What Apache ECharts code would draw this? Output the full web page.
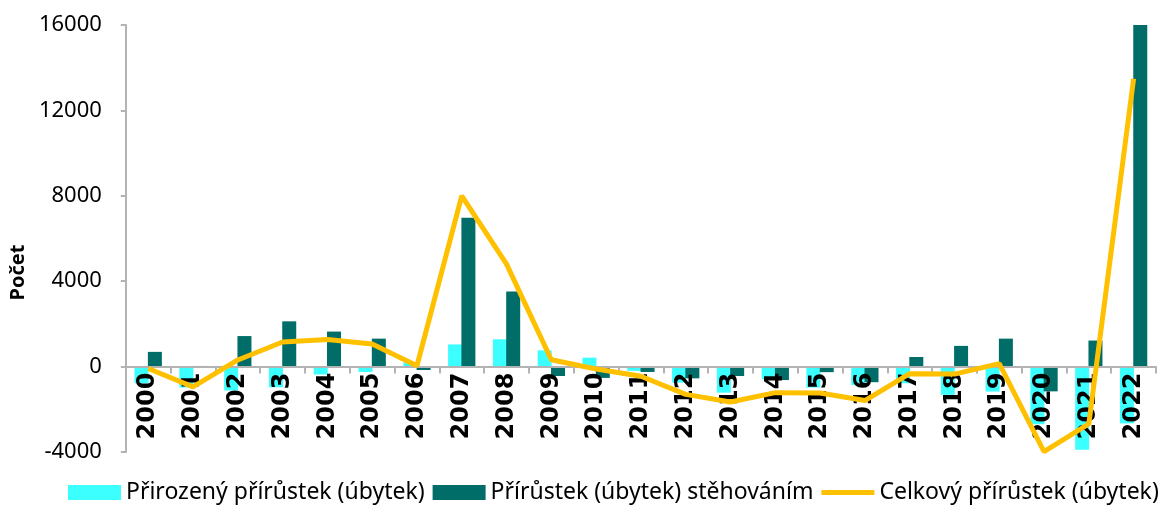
<!DOCTYPE html>
<html>
<head>
<meta charset="utf-8">
<script src="https://cdn.jsdelivr.net/npm/echarts@6/dist/echarts.min.js"></script>
<style>
  html, body { margin: 0; padding: 0; background: #fff; }
  #chart { width: 1168px; height: 512px; }
</style>
</head>
<body>
<div id="chart"></div>
<script>
// roky
var years = ['2000', '2001', '2002', '2003', '2004', '2005', '2006', '2007', '2008', '2009', '2010', '2011',
  '2012', '2013', '2014', '2015', '2016', '2017', '2018', '2019', '2020', '2021', '2022'];
// přirozený přírůstek (úbytek)
var prirozeny = [-780, -980, -1120, -970, -370, -250, 200, 1040, 1280, 760, 420, -200,
  -750, -1220, -590, -980, -860, -780, -1320, -1170, -2700, -3900, -2660];
// přírůstek (úbytek) stěhováním
var stehovanim = [690, 30, 1430, 2120, 1640, 1310, -160, 6970, 3520, -440, -530, -250,
  -550, -440, -630, -260, -730, 450, 970, 1310, -1160, 1220, 16160];
// celkový přírůstek (úbytek)
var celkovy = [-90, -950, 310, 1150, 1270, 1060, 40, 8000, 4800, 320, -110, -450,
  -1300, -1660, -1220, -1240, -1590, -330, -350, 140, -3980, -2680, 13480];

var yMin = -4000, yMax = 16000, yStep = 4000;

var gridTop = 25, gridBottom = 60;
var plotH = 512 - gridTop - gridBottom;
// posun osy x na nulu (popisky mají být hned pod nulovou čarou)
var zeroShift = -plotH * (0 - yMin) / (yMax - yMin);

var chart = echarts.init(document.getElementById('chart'));
var option = {
  animation: false,
  textStyle: { fontFamily: 'Noto Sans' },
  grid: { left: 122, right: 12, top: gridTop, bottom: gridBottom, containLabel: false },
  legend: {
    bottom: 3,
    left: 63,
    itemWidth: 53,
    itemHeight: 15,
    itemGap: 8,
    textStyle: { fontSize: 23, color: '#000', fontFamily: 'Noto Sans' },
    data: [
      { name: 'Přirozený přírůstek (úbytek)', icon: 'rect' },
      { name: 'Přírůstek (úbytek) stěhováním', icon: 'rect' },
      { name: 'Celkový přírůstek (úbytek)', icon: 'path://M0,0H53V5H0Z' }
    ]
  },
  xAxis: {
    type: 'category',
    data: years,
    offset: zeroShift,
    z: 5,
    axisLine: { onZero: false, lineStyle: { color: '#b3b3b3', width: 2 } },
    axisTick: { show: true, length: 7, lineStyle: { color: '#b3b3b3', width: 2 } },
    axisLabel: {
      rotate: 90,
      interval: 0,
      fontSize: 24,
      fontWeight: 'bold',
      fontFamily: 'DejaVu Sans',
      color: '#000',
      margin: 6
    },
    splitLine: { show: false }
  },
  yAxis: {
    type: 'value',
    min: yMin,
    max: yMax,
    interval: yStep,
    name: 'Počet',
    nameLocation: 'middle',
    nameGap: 94,
    nameTextStyle: { fontSize: 20, fontWeight: 'bold', color: '#000', padding: [0, 68, 0, 0] },
    axisLine: { show: true, lineStyle: { color: '#b3b3b3', width: 2 } },
    axisTick: { show: true, length: 5, lineStyle: { color: '#b3b3b3', width: 2 } },
    axisLabel: {
      fontSize: 22, color: '#000', margin: 24,
      formatter: function (v) { return String(v); }
    },
    splitLine: { show: false }
  },
  series: [
    {
      name: 'Přirozený přírůstek (úbytek)',
      type: 'bar',
      data: prirozeny,
      barWidth: 14,
      barGap: '-5%',
      itemStyle: { color: '#3cffff' }
    },
    {
      name: 'Přírůstek (úbytek) stěhováním',
      type: 'bar',
      data: stehovanim,
      barWidth: 14,
      barGap: '-5%',
      itemStyle: { color: '#006d68' }
    },
    {
      name: 'Celkový přírůstek (úbytek)',
      type: 'line',
      data: celkovy,
      symbol: 'none',
      lineStyle: { color: '#ffc000', width: 5 },
      itemStyle: { color: '#ffc000' },
      z: 10
    }
  ]
};
chart.setOption(option);
</script>
</body>
</html>
